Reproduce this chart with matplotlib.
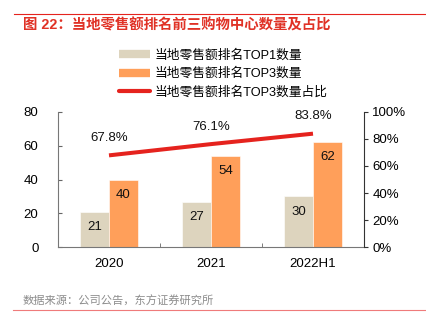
import matplotlib
matplotlib.use("Agg")
import matplotlib.pyplot as plt
from matplotlib.lines import Line2D
import numpy as np

plt.rcParams['font.family'] = ['Liberation Sans', 'Noto Sans CJK SC', 'DejaVu Sans']

categories = ["2020", "2021", "2022H1"]
top1 = [21, 27, 30]
top3 = [40, 54, 62]
ratio = [67.8, 76.1, 83.8]
left_ticks = [0, 20, 40, 60, 80]
right_ticks = [0, 20, 40, 60, 80, 100]

c_top1 = "#DDD4BE"
c_top3 = "#FF9F5A"
c_line = "#E5231E"
c_title = "#E03226"

W, H = 427, 334
fig = plt.figure(figsize=(W / 100, H / 100), dpi=100)

def fx(px):
    return px / W

def fy(py):
    return 1 - py / H

ax = fig.add_axes([fx(58), fy(247.3), fx(364) - fx(58), fy(111.7) - fy(247.3)])
ax2 = ax.twinx()

x = np.arange(len(categories))
bw = 0.285
b1 = ax.bar(x - bw / 2, top1, bw, color=c_top1, edgecolor="white", linewidth=0.4, zorder=2)
b3 = ax.bar(x + bw / 2, top3, bw, color=c_top3, edgecolor="white", linewidth=0.4, zorder=2)

for rect, v in zip(list(b1) + list(b3), top1 + top3):
    ax.annotate(str(v), (rect.get_x() + rect.get_width() / 2, rect.get_height()),
                xytext=(0, -11), textcoords="offset points", ha="center", va="center",
                fontsize=9.5, color="#111111")

ax.set_xlim(-0.5, 2.5)
ax.set_ylim(0, 80)
ax.set_yticks(left_ticks)
ax.set_xticks(x)
ax.set_xticklabels(categories)
ax.set_xticks([0.5, 1.5], minor=True)
ax.tick_params(axis="x", which="major", length=0, pad=8, labelsize=9.5)
ax.tick_params(axis="x", which="minor", length=3, direction="in", color="#666666")
ax.tick_params(axis="y", direction="in", length=3, color="#666666", labelsize=9.5, pad=14)
for lab in ax.get_yticklabels():
    lab.set_horizontalalignment("right")

ax2.plot(x, ratio, color=c_line, lw=2.9, solid_capstyle="butt", zorder=3)
for xi, r in zip(x, ratio):
    ax2.annotate(f"{r:.1f}%", (xi, r), xytext=(0, 12.5), textcoords="offset points",
                 ha="center", va="center", fontsize=9.5, color="#111111")
ax2.set_ylim(0, 100)
ax2.set_yticks(right_ticks)
ax2.set_yticklabels([f"{t}%" for t in right_ticks])
ax2.tick_params(axis="y", direction="out", length=3, color="#333333", labelsize=9.5, pad=3)

for a in (ax, ax2):
    a.spines["top"].set_visible(False)
    a.spines["left"].set_color("#777777")
    a.spines["right"].set_color("#333333")
    a.spines["bottom"].set_color("#777777")
    a.set_facecolor("none")
ax.spines["right"].set_visible(False)
ax2.spines["left"].set_visible(False)
ax2.spines["bottom"].set_visible(False)

handles = [
    Line2D([], [], color=c_top1, lw=6, solid_capstyle="butt"),
    Line2D([], [], color=c_top3, lw=6, solid_capstyle="butt"),
    Line2D([], [], color=c_line, lw=3, solid_capstyle="round"),
]
labels = ["当地零售额排名TOP1数量", "当地零售额排名TOP3数量", "当地零售额排名TOP3数量占比"]
fig.legend(handles, labels, loc="upper left", bbox_to_anchor=(fx(110), fy(40)),
           frameon=False, fontsize=9.2, handlelength=2.45, handletextpad=0.35,
           labelspacing=0.5, borderpad=0.2)

fig.add_artist(Line2D([fx(14), fx(427)], [fy(14.3), fy(14.3)], color="#E5231E", lw=0.8))
fig.text(fx(23), fy(25.5), "图 22：当地零售额排名前三购物中心数量及占比", color=c_title,
         fontsize=10.4, fontweight="bold", ha="left", va="center")
fig.text(fx(23), fy(301.5), "数据来源：公司公告，东方证券研究所", color="#8C8C8C",
         fontsize=8.1, ha="left", va="center")
fig.add_artist(Line2D([fx(13), fx(427)], [fy(309.8), fy(309.8)], color="#EF7B7B", lw=0.8))

fig.savefig("out.png", dpi=100)
